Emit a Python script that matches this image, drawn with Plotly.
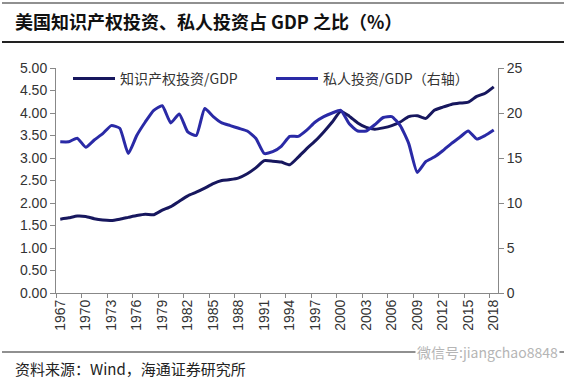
import plotly.graph_objects as go

years = [str(y) for y in range(1967, 2019)]

ip_gdp = [1.64, 1.67, 1.71, 1.70, 1.65, 1.62, 1.61, 1.64, 1.68, 1.72,
          1.75, 1.74, 1.84, 1.92, 2.04, 2.16, 2.24, 2.33, 2.43, 2.50,
          2.52, 2.56, 2.65, 2.78, 2.94, 2.93, 2.91, 2.85, 3.02, 3.21,
          3.38, 3.58, 3.80, 4.04, 3.93, 3.78, 3.68, 3.64, 3.67, 3.72,
          3.80, 3.92, 3.94, 3.88, 4.06, 4.13, 4.19, 4.22, 4.24, 4.37,
          4.44, 4.58]

private_gdp = [16.8, 16.8, 17.2, 16.2, 17.0, 17.7, 18.6, 18.3, 15.5, 17.5,
               19.0, 20.3, 20.8, 18.9, 19.9, 17.9, 17.5, 20.5, 19.6, 18.9,
               18.6, 18.3, 18.0, 17.2, 15.5, 15.7, 16.3, 17.4, 17.4, 18.1,
               19.0, 19.6, 20.0, 20.3, 18.8, 18.0, 18.0, 18.7, 19.5, 19.6,
               18.6, 16.6, 13.4, 14.6, 15.1, 15.8, 16.6, 17.3, 18.0, 17.1,
               17.5, 18.1]

left_ticks = [0, 0.5, 1, 1.5, 2, 2.5, 3, 3.5, 4, 4.5, 5]
right_ticks = [0, 5, 10, 15, 20, 25]

name_ip = "知识产权投资/GDP"
name_private = "私人投资/GDP（右轴）"
title_text = "美国知识产权投资、私人投资占 GDP 之比（%）"
source_text = "资料来源：Wind，海通证券研究所"
watermark_text = "微信号:jiangchao8848"

CJK = "Noto Sans CJK SC"
LAT = "Liberation Sans, Arial, sans-serif"

fig = go.Figure()
fig.add_trace(go.Scatter(
    x=years, y=ip_gdp, name=name_ip, mode="lines",
    line=dict(color="#17175e", width=3, shape="spline", smoothing=0.5),
    yaxis="y"))
fig.add_trace(go.Scatter(
    x=years, y=private_gdp, name=name_private, mode="lines",
    line=dict(color="#2a2aa6", width=3, shape="spline", smoothing=0.5),
    yaxis="y2"))

L, R, T, B = 56, 68, 68, 89
W, H = 566, 382
pw, ph = W - L - R, H - T - B

def px(x):
    return (x - L) / pw

def py(y):
    return (H - B - y) / ph

fig.update_layout(
    width=W, height=H,
    margin=dict(l=L, r=R, t=T, b=B, pad=0),
    paper_bgcolor="white", plot_bgcolor="white",
    showlegend=True,
    legend=dict(orientation="h", x=px(68), y=py(63), xanchor="left", yanchor="top",
                font=dict(family=CJK, size=14, color="#333333"),
                bgcolor="rgba(0,0,0,0)", itemwidth=42,
                entrywidth=146, entrywidthmode="pixels",
                tracegroupgap=0),
    xaxis=dict(type="category", range=[-0.5, len(years) - 0.5],
               tickmode="linear", dtick=3, tick0=0,
               tickson="boundaries",
               ticks="outside", ticklen=4, tickcolor="#888888",
               showline=True, linecolor="#888888", linewidth=1,
               showgrid=False, zeroline=False,
               tickangle=-90,
               tickfont=dict(family=LAT, size=14, color="#333333")),
    yaxis=dict(range=[0, 5], tickvals=left_ticks, tickformat=".2f",
               ticks="outside", ticklen=5, tickcolor="#888888",
               showline=True, linecolor="#888888", linewidth=1,
               showgrid=False, zeroline=False,
               tickfont=dict(family=LAT, size=14, color="#333333")),
    yaxis2=dict(range=[0, 25], tickvals=right_ticks, overlaying="y", side="right",
                ticks="outside", ticklen=5, tickcolor="#888888",
                showline=True, linecolor="#888888", linewidth=1,
                showgrid=False, zeroline=False,
                tickfont=dict(family=LAT, size=14, color="#333333")),
)

fig.add_annotation(text=title_text, xref="paper", yref="paper",
                   x=px(13), y=py(21), xanchor="left", yanchor="middle",
                   showarrow=False,
                   font=dict(family=CJK, size=18, color="#111111", weight="bold"))
fig.add_annotation(text=source_text, xref="paper", yref="paper",
                   x=px(13), y=py(368), xanchor="left", yanchor="middle",
                   showarrow=False,
                   font=dict(family=CJK, size=15, color="#222222"))
fig.add_annotation(text=watermark_text, xref="paper", yref="paper",
                   x=px(560), y=py(352), xanchor="right", yanchor="middle",
                   showarrow=False, bgcolor="white",
                   font=dict(family=CJK, size=14, color="#b5b5b5"))

for y0, w in [(3, 1.2), (42, 2.2), (352, 1.2)]:
    fig.add_shape(type="line", xref="paper", yref="paper",
                  x0=px(2), x1=px(564), y0=py(y0), y1=py(y0),
                  line=dict(color="#222222", width=w), layer="below")

fig.write_html("out.html",
               config={"displayModeBar": False},
               post_script="document.body.style.margin='0';"
                           "document.body.style.overflow='hidden';")
